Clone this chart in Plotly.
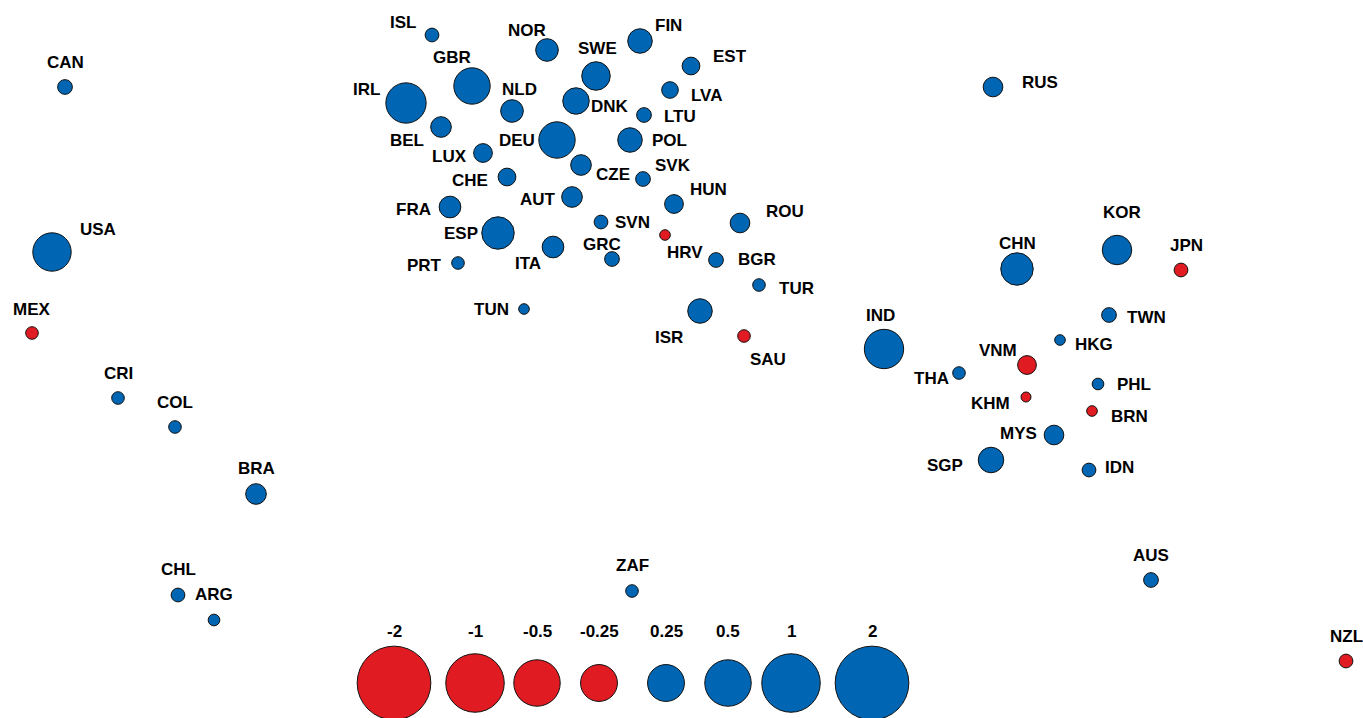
import numpy as np
import plotly.graph_objects as go

# Country positions (map-like layout, y grows downward), effect values (sign -> colour, |v| -> bubble size)
countries = ["CAN", "USA", "MEX", "CRI", "COL", "BRA", "CHL", "ARG",
             "ISL", "IRL", "GBR", "NOR", "SWE", "FIN", "EST", "LVA", "LTU",
             "NLD", "DNK", "BEL", "DEU", "POL", "LUX", "CZE", "SVK", "CHE",
             "AUT", "HUN", "FRA", "ESP", "SVN", "HRV", "ITA", "GRC", "PRT",
             "TUN", "ROU", "BGR", "TUR", "ISR", "SAU", "ZAF",
             "RUS", "CHN", "KOR", "JPN", "TWN", "HKG", "IND", "VNM", "THA",
             "KHM", "PHL", "BRN", "MYS", "SGP", "IDN", "AUS", "NZL"]
pos_x = [65, 52, 32, 118, 175, 256, 178, 214,
         432, 406, 472, 547, 596, 640, 691, 670, 644,
         512, 576, 441, 557, 630, 483, 581, 643, 507,
         572, 674, 450, 498, 601, 665, 553, 612, 458,
         524, 740, 716, 759, 700, 744, 632,
         993, 1017, 1117, 1181, 1109, 1060, 884, 1027, 959,
         1026, 1098, 1092, 1054, 991, 1089, 1151, 1346]
pos_y = [87, 252, 333, 398, 427, 494, 595, 620,
         35, 103, 86, 50, 76, 41, 66, 90, 115,
         111, 101, 127, 140, 140, 153, 165, 179, 177,
         197, 204, 207, 233, 222, 235, 247, 259, 263,
         309, 223, 260, 285, 311, 336, 591,
         87, 269, 250, 270, 315, 340, 349, 365, 373,
         397, 384, 411, 435, 460, 470, 580, 661]
values = [0.016, 0.282, -0.010, 0.010, 0.010, 0.044, 0.013, 0.008,
          0.013, 0.327, 0.240, 0.058, 0.116, 0.074, 0.028, 0.023, 0.016,
          0.058, 0.093, 0.044, 0.240, 0.074, 0.033, 0.044, 0.016, 0.028,
          0.044, 0.033, 0.051, 0.171, 0.013, -0.006, 0.051, 0.016, 0.010,
          0.006, 0.038, 0.016, 0.010, 0.074, -0.010, 0.010,
          0.038, 0.171, 0.128, -0.013, 0.016, 0.006, 0.304, -0.033, 0.010,
          -0.005, 0.008, -0.006, 0.038, 0.083, 0.013, 0.016, -0.013]

# Size legend
legend_values = [-2, -1, -0.5, -0.25, 0.25, 0.5, 1, 2]
legend_labels = ["-2", "-1", "-0.5", "-0.25", "0.25", "0.5", "1", "2"]

# Label offsets (px) from each bubble centre: dx right, dy down
label_offsets = {
    "CAN": (0, -25), "USA": (46, -23), "MEX": (0, -24), "CRI": (0, -25), "COL": (0, -25),
    "BRA": (0, -26), "CHL": (0, -26), "ARG": (0, -26), "ISL": (-29, -13), "IRL": (-40, -14),
    "GBR": (-20, -29), "NOR": (-20, -20), "SWE": (1, -28), "FIN": (28, -16), "EST": (39, -10),
    "LVA": (36, 5), "LTU": (36, 1), "NLD": (7, -22), "DNK": (34, 5), "BEL": (-34, 13),
    "DEU": (-40, 0), "POL": (39, 0), "LUX": (-34, 3), "CZE": (32, 9), "SVK": (30, -14),
    "CHE": (-37, 3), "AUT": (-34, 2), "HUN": (34, -15), "FRA": (-37, 2), "ESP": (-37, 0),
    "SVN": (31, 0), "HRV": (20, 17), "ITA": (-25, 16), "GRC": (-10, -15), "PRT": (-34, 2),
    "TUN": (-33, 0), "ROU": (45, -12), "BGR": (41, -1), "TUR": (37, 3), "ISR": (-31, 26),
    "SAU": (24, 23), "ZAF": (0, -26), "RUS": (47, -5), "CHN": (0, -26), "KOR": (5, -38),
    "JPN": (5, -25), "TWN": (37, 2), "HKG": (34, 4), "IND": (-4, -34), "VNM": (-29, -15),
    "THA": (-28, 5), "KHM": (-36, 6), "PHL": (36, 0), "BRN": (37, 5), "MYS": (-36, -2),
    "SGP": (-46, 5), "IDN": (30, -3), "AUS": (0, -25), "NZL": (0, -25),
}

BLUE = "#0066B3"
RED = "#E01B22"
SCALE = 58.5  # px diameter for |v| = 1, cube-root scaling
FONT = dict(family="Liberation Sans, Arial, sans-serif", size=17, color="#000000", weight="bold")


def bubble_size(v):
    return SCALE * np.cbrt(np.abs(np.asarray(v, dtype=float)))


def bubble_color(v):
    return [BLUE if x > 0 else RED for x in v]


fig = go.Figure()

fig.add_trace(go.Scatter(
    x=pos_x, y=pos_y, mode="markers",
    marker=dict(size=bubble_size(values), color=bubble_color(values),
                line=dict(color="#111111", width=1), opacity=1),
    text=countries, customdata=values,
    hovertemplate="<b>%{text}</b><br>%{customdata:.3f}<extra></extra>",
    showlegend=False,
))

for c, x, y in zip(countries, pos_x, pos_y):
    dx, dy = label_offsets[c]
    fig.add_annotation(x=x, y=y, text=c, showarrow=False, font=FONT,
                       xshift=dx, yshift=-dy, xanchor="center", yanchor="middle")

# Size legend along the bottom
legend_x = [394, 475, 537, 599, 666, 728, 791, 872]
legend_y = [683] * len(legend_values)
fig.add_trace(go.Scatter(
    x=legend_x, y=legend_y, mode="markers",
    marker=dict(size=bubble_size(legend_values), color=bubble_color(legend_values),
                line=dict(color="#111111", width=1), opacity=1),
    hoverinfo="skip", showlegend=False, cliponaxis=False,
))
for lx, lab in zip(legend_x, legend_labels):
    fig.add_annotation(x=lx, y=631, text=lab, showarrow=False, font=FONT,
                       xanchor="center", yanchor="middle")

fig.update_layout(
    width=1363, height=718,
    margin=dict(l=0, r=0, t=0, b=0),
    paper_bgcolor="white", plot_bgcolor="white",
    xaxis=dict(range=[0, 1363], visible=False, fixedrange=True),
    yaxis=dict(range=[718, 0], visible=False, fixedrange=True),
)

fig.write_html("out.html", config={"displayModeBar": False})

# drop the browser's default body margin so the figure sits flush in the window
with open("out.html", encoding="utf-8") as f:
    page = f.read()
page = page.replace("<head>", "<head><style>html,body{margin:0;padding:0;overflow:hidden;}</style>", 1)
with open("out.html", "w", encoding="utf-8") as f:
    f.write(page)
